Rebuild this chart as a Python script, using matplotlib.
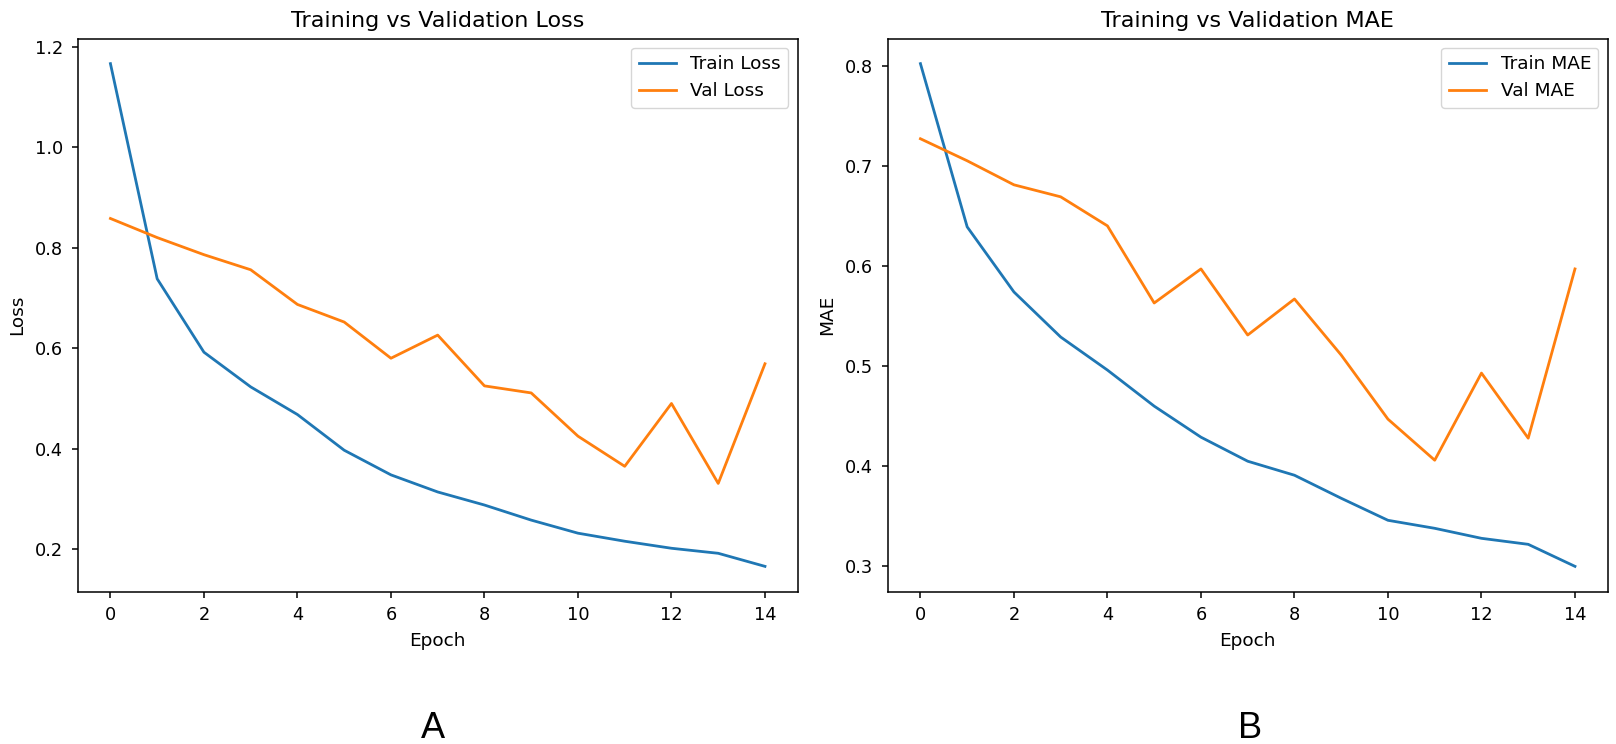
import matplotlib
matplotlib.use("Agg")
import matplotlib.pyplot as plt
import numpy as np

epochs = list(range(15))
train_loss = [1.166, 0.738, 0.592, 0.523, 0.468, 0.397, 0.348, 0.314, 0.288, 0.258,
              0.232, 0.216, 0.202, 0.192, 0.166]
val_loss = [0.858, 0.820, 0.786, 0.756, 0.687, 0.652, 0.580, 0.626, 0.525, 0.511,
            0.425, 0.365, 0.490, 0.331, 0.569]
train_mae = [0.802, 0.639, 0.574, 0.529, 0.496, 0.460, 0.429, 0.405, 0.391, 0.368,
             0.346, 0.338, 0.328, 0.322, 0.300]
val_mae = [0.727, 0.705, 0.681, 0.669, 0.640, 0.563, 0.597, 0.531, 0.567, 0.511,
           0.447, 0.406, 0.493, 0.428, 0.597]

panels = [
    ("Training vs Validation Loss", "Loss", "Train Loss", "Val Loss", train_loss, val_loss, "A"),
    ("Training vs Validation MAE", "MAE", "Train MAE", "Val MAE", train_mae, val_mae, "B"),
]

fig = plt.figure(figsize=(16.16, 7.44), dpi=100)
plt.rcParams['font.family'] = ['DejaVu Sans']

lefts = [77.7 / 1616, 887.7 / 1616]
width = 720.0 / 1616
bottom = (744 - 591.5) / 744
height = 553.0 / 744
letter_x = [433 / 1616, 1250 / 1616]

for i, (title, ylab, l1, l2, tr, va, letter) in enumerate(panels):
    ax = fig.add_axes([lefts[i], bottom, width, height])
    ax.plot(epochs, tr, color="#1f77b4", lw=2.0, label=l1)
    ax.plot(epochs, va, color="#ff7f0e", lw=2.0, label=l2)
    ax.set_title(title, fontsize=16, pad=8)
    ax.set_xlabel("Epoch", fontsize=13.3, labelpad=6)
    ax.set_ylabel(ylab, fontsize=13.3, labelpad=6)
    ax.tick_params(labelsize=12.8, width=1.1, length=4.2, pad=6.3)
    for s in ax.spines.values():
        s.set_linewidth(1.1)
    ax.legend(loc="upper right", fontsize=13.3)
    fig.text(letter_x[i], 1 - 728 / 744, letter, fontsize=26,
             family="Liberation Sans", ha="center", va="center")

fig.savefig("out.png", dpi=100)
